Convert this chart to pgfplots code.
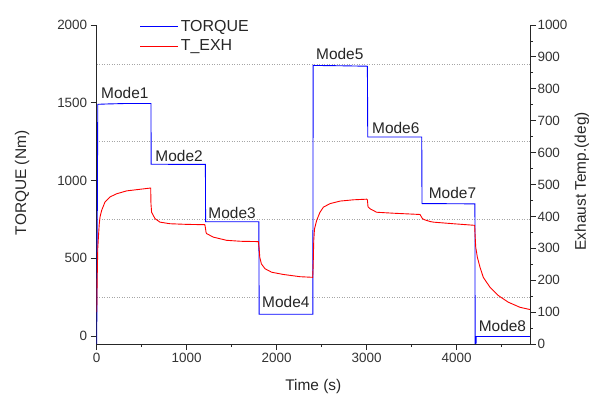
\documentclass[border=0pt]{standalone}
\usepackage{pgfplots}
\pgfplotsset{compat=1.18}
\usepackage{fontspec}
\setmainfont{Liberation Sans}
\begin{document}
\begin{tikzpicture}
\useasboundingbox (0,0) rectangle (594bp,396bp);
\pgfplotsset{
  common/.style={
    at={(96.7bp,52bp)}, anchor=south west,
    scale only axis, width=433.3bp, height=319bp,
    xmin=0, xmax=4815,
    axis line style={-, black!85, line width=0.8bp},
    tick align=outside,
    major tick length=6bp, minor tick length=3bp,
    tick style={black!85, line width=0.8bp},
    /pgf/number format/assume math mode=true,
    /pgf/number format/1000 sep={},
    tick label style={font=\fontsize{13.5}{14}\selectfont, text=black!80},
    label style={font=\fontsize{15.5}{16}\selectfont, text=black!85},
  }
}
\begin{axis}[common,
  axis x line*=bottom, axis y line*=left,
  ymin=-51, ymax=2000,
  xtick={0,1000,2000,3000,4000},
  minor xtick={500,1500,2500,3500,4500},
  ytick={0,500,1000,1500,2000},
  extra y ticks={250,750,1250,1750},
  extra y tick labels={},
  extra y tick style={grid=major, major tick length=0pt,
     major grid style={gray!70, line width=0.5bp, dash pattern=on 1bp off 1.5bp}},
  xlabel={Time (s)},
  ylabel={TORQUE (Nm)},
  xlabel style={at={(axis description cs:0.5,-0.132)}, anchor=center},
  ylabel style={at={(axis description cs:-0.172,0.505)}, anchor=center},
  clip=true,
]
\addplot[blue, line width=0.9bp] coordinates {
(0,-50) (12,1490) (100,1492) (300,1495) (603,1495)
(605,1105) (900,1104) (1208,1104)
(1210,735) (1500,735) (1802,735)
(1805,140) (2100,140) (2402,140)
(2405,1740) (2700,1738) (3008,1735)
(3012,1280) (3300,1280) (3612,1280)
(3615,852) (3900,851) (4203,850)
(4205,-50) (4215,-50) (4218,-3) (4500,-3) (4815,-3)
};
\node[anchor=west, inner sep=1pt, fill=white, font=\fontsize{15.5}{16}\selectfont, text=black!85] at (axis cs:37,1563) {Mode1};
\node[anchor=west, inner sep=1pt, fill=white, font=\fontsize{15.5}{16}\selectfont, text=black!85] at (axis cs:640,1160) {Mode2};
\node[anchor=west, inner sep=1pt, fill=white, font=\fontsize{15.5}{16}\selectfont, text=black!85] at (axis cs:1229,793) {Mode3};
\node[anchor=west, inner sep=1pt, fill=white, font=\fontsize{15.5}{16}\selectfont, text=black!85] at (axis cs:1826,220) {Mode4};
\node[anchor=west, inner sep=1pt, fill=white, font=\fontsize{15.5}{16}\selectfont, text=black!85] at (axis cs:2426,1811) {Mode5};
\node[anchor=west, inner sep=1pt, fill=white, font=\fontsize{15.5}{16}\selectfont, text=black!85] at (axis cs:3048,1340) {Mode6};
\node[anchor=west, inner sep=1pt, fill=white, font=\fontsize{15.5}{16}\selectfont, text=black!85] at (axis cs:3678,921) {Mode7};
\node[anchor=west, inner sep=1pt, fill=white, font=\fontsize{15.5}{16}\selectfont, text=black!85] at (axis cs:4233,64) {Mode8};
\end{axis}
\begin{axis}[common,
  axis x line=none, axis y line*=right,
  ymin=0, ymax=1000,
  ytick={0,100,...,1000},
  minor ytick={50,150,...,950},
  ylabel={Exhaust Temp.(deg)},
  ylabel style={at={(axis description cs:1.12,0.51)}, anchor=center, rotate=0},
  yticklabel style={xshift=-2bp},
  legend style={at={(axis description cs:0.099,1.022)}, anchor=north west,
     draw=none, fill=none, font=\fontsize{16}{17}\selectfont,
     row sep=3bp, inner sep=0pt, nodes={text=black!85}},
  legend cell align=left,
  legend image code/.code={\draw[#1] (0bp,0bp) -- (38bp,0bp);},
]
\addlegendimage{legend image code/.code={\draw[blue, line width=1bp] (0bp,0bp) -- (38bp,0bp);}}
\addlegendentry{TORQUE}
\addplot[red, line width=0.9bp] coordinates {
(0,100) (3,160) (7,230) (12,300) (19,335) (28,375) (37,398) (55,419) (92,445)
(148,461) (222,471) (333,480) (481,485) (600,489)
(603,440) (610,413) (648,393) (703,382) (814,377) (1000,375) (1200,374)
(1205,370) (1215,350) (1222,346) (1296,335) (1444,325) (1600,322) (1796,321)
(1805,300) (1812,272) (1830,251) (1870,236) (1944,225) (2074,218) (2259,211) (2400,209)
(2405,241) (2412,325) (2420,360) (2444,387) (2481,413) (2519,429) (2593,440)
(2704,448) (2852,452) (3000,454)
(3008,452) (3015,430) (3037,424) (3111,413) (3296,410) (3593,406)
(3605,400) (3620,393) (3648,389) (3704,384) (3741,382) (3963,377) (4200,372)
(4205,340) (4212,303) (4230,272) (4259,241) (4296,209) (4370,178) (4463,152)
(4574,131) (4704,115) (4815,108)
};
\addlegendentry{T\_EXH}
\end{axis}
\end{tikzpicture}
\end{document}
